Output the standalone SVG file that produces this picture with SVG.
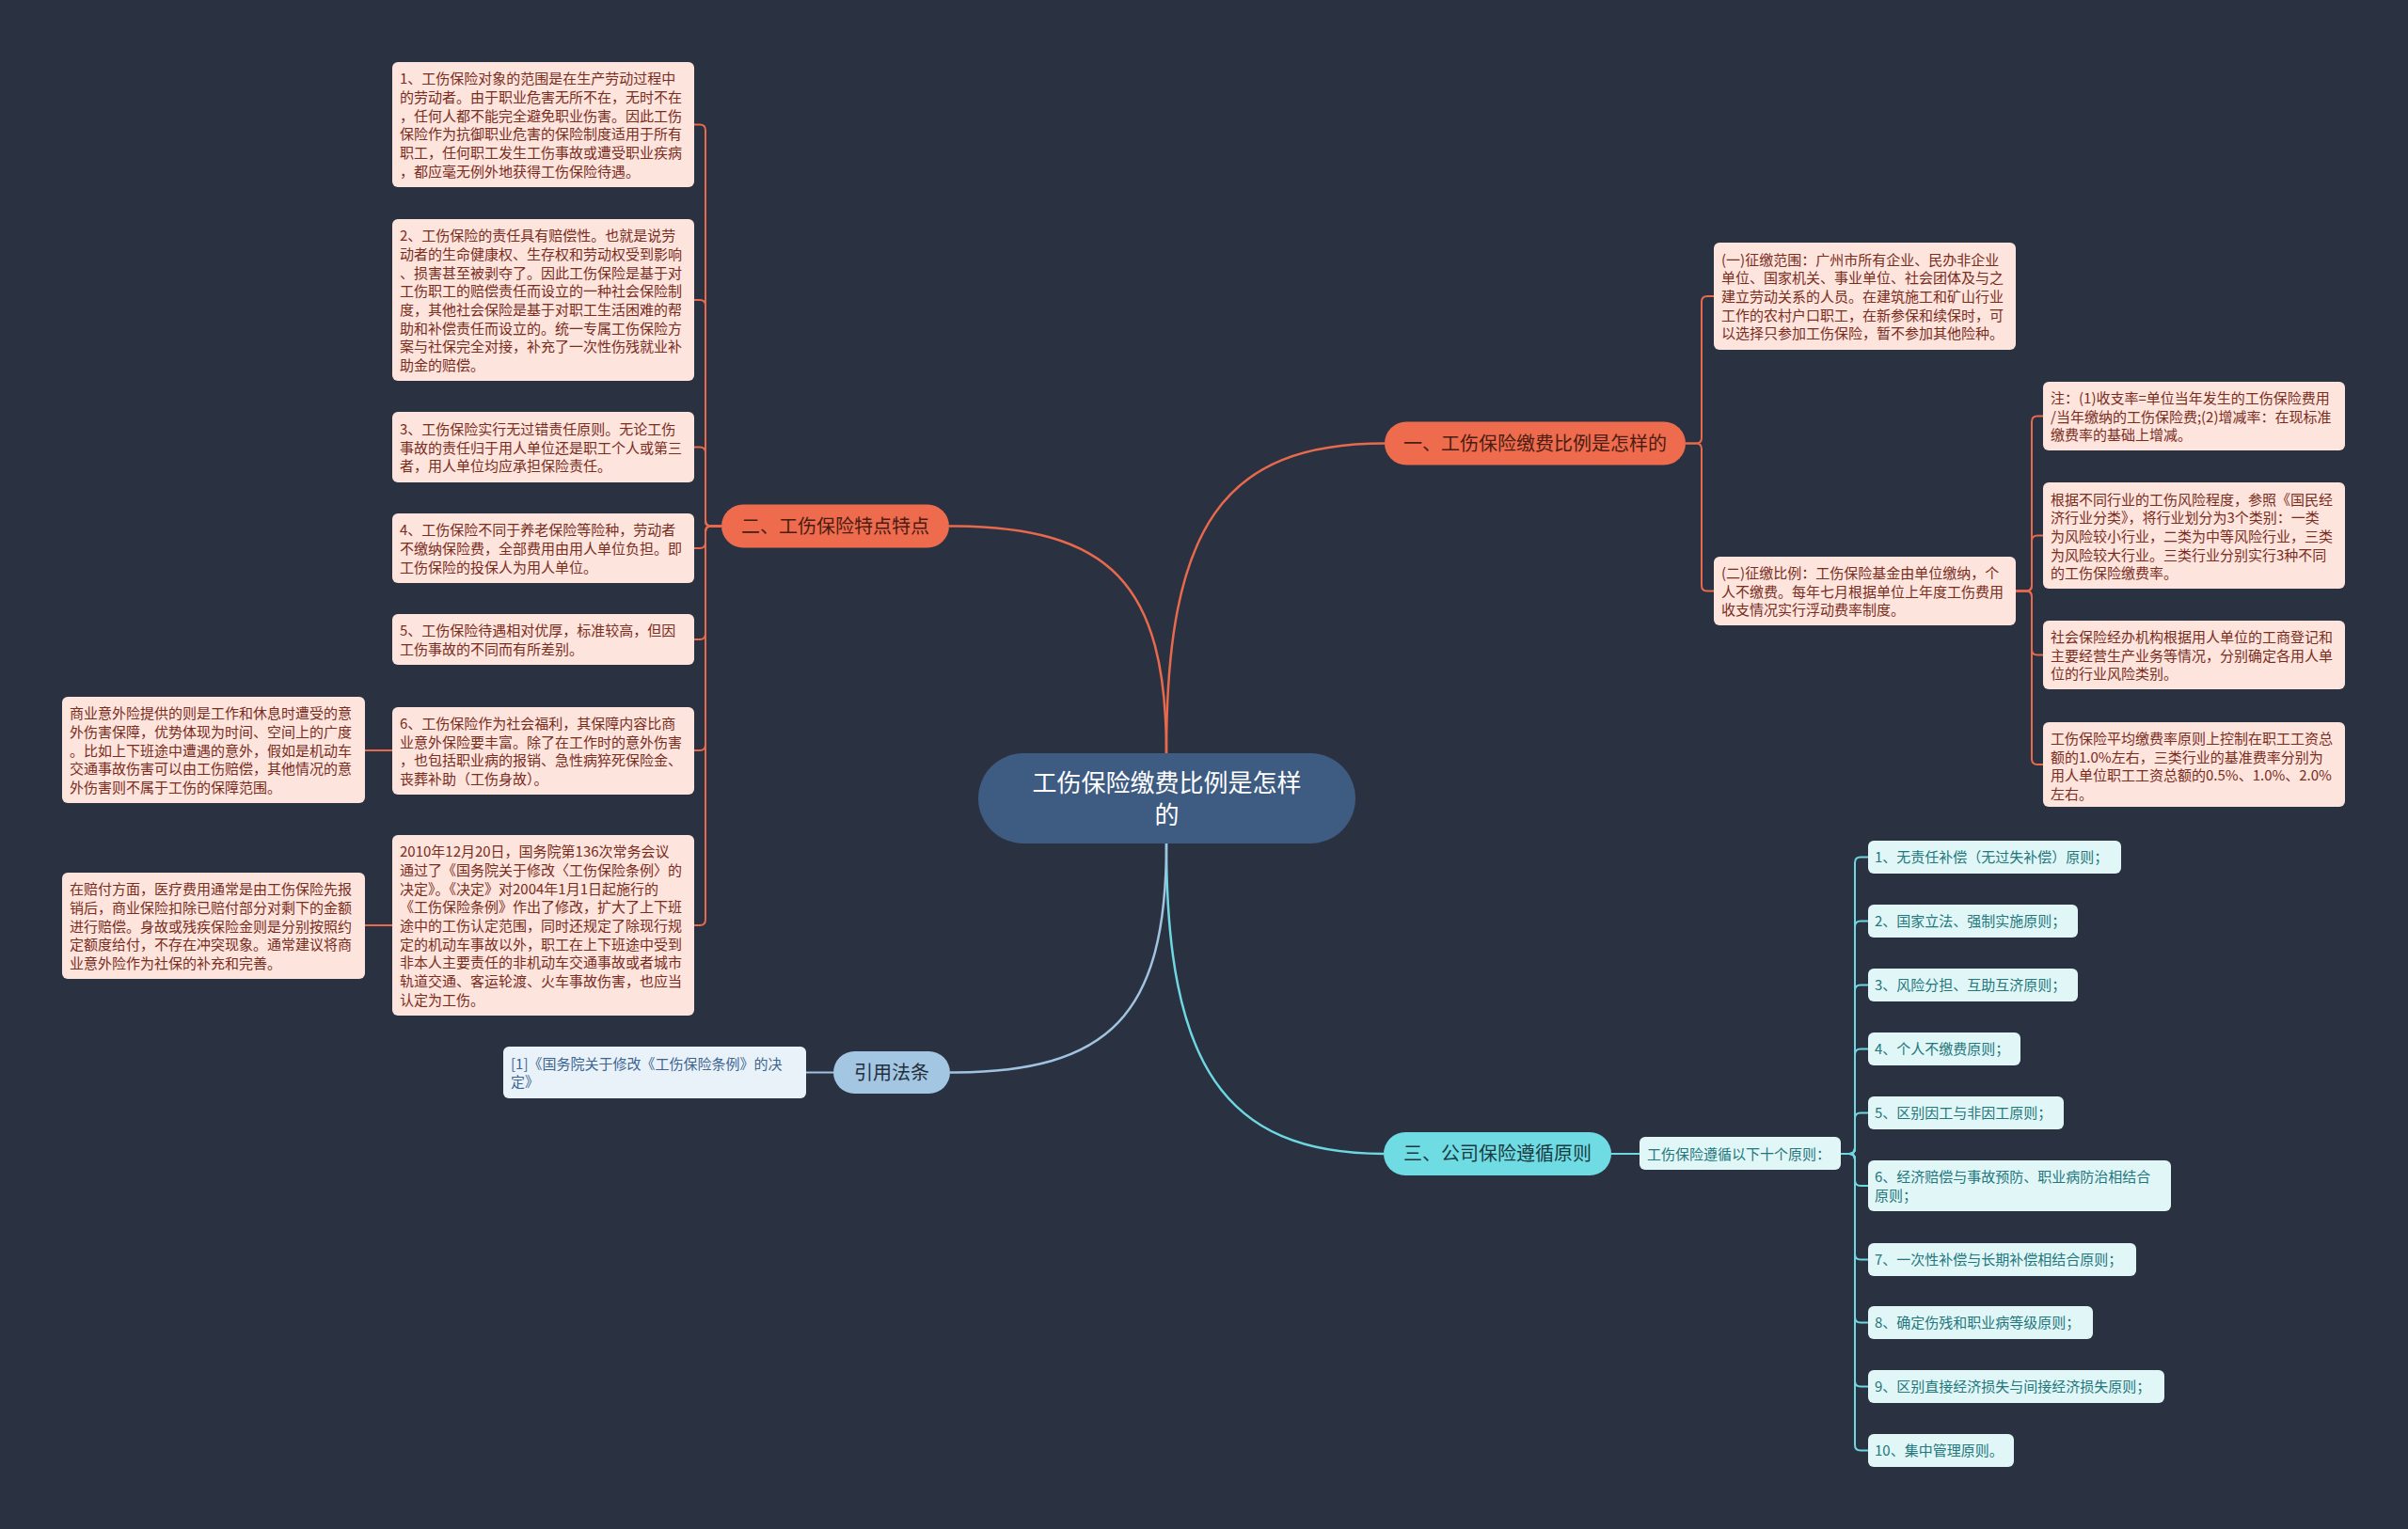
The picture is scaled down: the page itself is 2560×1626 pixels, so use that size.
<svg xmlns="http://www.w3.org/2000/svg" width="2560" height="1626" viewBox="0 0 2560 1626">
<style>
text{font-family:"Noto Sans CJK SC","Noto Sans",sans-serif;}
.pbox{fill:#fde4dc;}
.pt{font-size:15px;fill:#7a2c1c;}
.cbox{fill:#e1f6f7;}
.ct{font-size:15px;fill:#22777c;}
.coral{fill:#ee6b4d;}
.brt{font-size:20px;text-anchor:middle;}
.lo{fill:none;stroke:#e8694c;stroke-width:2.5;}
.ls{fill:none;stroke:#e8694c;stroke-width:2;}
.co{fill:none;stroke:#6dd8e2;stroke-width:2.5;}
.cs{fill:none;stroke:#6dd8e2;stroke-width:2;}
.bo{fill:none;stroke:#a0c3e0;stroke-width:2.5;}
</style>
<rect width="2560" height="1626" fill="#2a3242"/>

<g id="connectors">
  <path class="lo" d="M1240,801 C1240,560 1300,471.5 1472,471.5"/>
  <path class="lo" d="M1240,801 C1240,620 1180,559.5 1009,559.5"/>
  <path class="co" d="M1240,897 C1240,1130 1300,1227 1471,1227"/>
  <path class="bo" d="M1240,897 C1240,1080 1180,1140.5 1010,1140.5"/>
  <!-- branch 2 to left boxes -->
  <path class="ls" d="M767,559.5 H756 Q750,559.5 750,553.5 V138.5 Q750,132.5 744,132.5 H738"/>
  <path class="ls" d="M767,559.5 H756 Q750,559.5 750,553.5 V325 Q750,319 744,319 H738"/>
  <path class="ls" d="M767,559.5 H756 Q750,559.5 750,553.5 V481.5 Q750,475.5 744,475.5 H738"/>
  <path class="ls" d="M767,559.5 H756 Q750,559.5 750,565.5 V577 Q750,583 744,583 H738"/>
  <path class="ls" d="M767,559.5 H756 Q750,559.5 750,565.5 V674 Q750,680 744,680 H738"/>
  <path class="ls" d="M767,559.5 H756 Q750,559.5 750,565.5 V792 Q750,798 744,798 H738"/>
  <path class="ls" d="M767,559.5 H756 Q750,559.5 750,565.5 V978 Q750,984 744,984 H738"/>
  <path class="ls" d="M417,798 H388"/>
  <path class="ls" d="M417,984 H388"/>
  <!-- branch 1 -->
  <path class="ls" d="M1792,471.5 H1803 Q1809,471.5 1809,465.5 V321 Q1809,315 1815,315 H1822"/>
  <path class="ls" d="M1792,471.5 H1803 Q1809,471.5 1809,477.5 V622.5 Q1809,628.5 1815,628.5 H1822"/>
  <path class="ls" d="M2143,628.5 H2154 Q2160,628.5 2160,622.5 V448.5 Q2160,442.5 2166,442.5 H2172"/>
  <path class="ls" d="M2143,628.5 H2154 Q2160,628.5 2160,622.5 V575.5 Q2160,569.5 2166,569.5 H2172"/>
  <path class="ls" d="M2143,628.5 H2154 Q2160,628.5 2160,634.5 V690.5 Q2160,696.5 2166,696.5 H2172"/>
  <path class="ls" d="M2143,628.5 H2154 Q2160,628.5 2160,634.5 V807 Q2160,813 2166,813 H2172"/>
  <!-- branch 3 -->
  <path class="cs" d="M1713,1227 H1743"/>
  <path class="cs" d="M1957,1227 H1966 Q1972,1227 1972,1221 V917.5 Q1972,911.5 1978,911.5 H1986"/>
  <path class="cs" d="M1957,1227 H1966 Q1972,1227 1972,1221 V985.5 Q1972,979.5 1978,979.5 H1986"/>
  <path class="cs" d="M1957,1227 H1966 Q1972,1227 1972,1221 V1053.5 Q1972,1047.5 1978,1047.5 H1986"/>
  <path class="cs" d="M1957,1227 H1966 Q1972,1227 1972,1221 V1121.5 Q1972,1115.5 1978,1115.5 H1986"/>
  <path class="cs" d="M1957,1227 H1966 Q1972,1227 1972,1221 V1189.5 Q1972,1183.5 1978,1183.5 H1986"/>
  <path class="cs" d="M1957,1227 H1966 Q1972,1227 1972,1233 V1255 Q1972,1261 1978,1261 H1986"/>
  <path class="cs" d="M1957,1227 H1966 Q1972,1227 1972,1233 V1333.5 Q1972,1339.5 1978,1339.5 H1986"/>
  <path class="cs" d="M1957,1227 H1966 Q1972,1227 1972,1233 V1400.5 Q1972,1406.5 1978,1406.5 H1986"/>
  <path class="cs" d="M1957,1227 H1966 Q1972,1227 1972,1233 V1468.5 Q1972,1474.5 1978,1474.5 H1986"/>
  <path class="cs" d="M1957,1227 H1966 Q1972,1227 1972,1233 V1536.5 Q1972,1542.5 1978,1542.5 H1986"/>
  <path class="bo" style="stroke-width:2" d="M886,1140.5 H857"/>
</g>

<g id="root">
  <rect x="1040" y="801" width="401" height="96" rx="48" fill="#3e5c82"/>
  <text x="1240.5" y="842" font-size="26" fill="#ffffff" text-anchor="middle">工伤保险缴费比例是怎样</text>
  <text x="1240.5" y="876" font-size="26" fill="#ffffff" text-anchor="middle">的</text>
</g>

<g id="branch1">
  <rect class="coral" x="1472" y="448.5" width="320" height="46" rx="23"/>
  <text class="brt" x="1632" y="478.5" fill="#4a1c12">一、工伤保险缴费比例是怎样的</text>
</g>
<g id="branch2">
  <rect class="coral" x="767" y="536.5" width="242" height="46" rx="23"/>
  <text class="brt" x="888" y="566.5" fill="#4a1c12">二、工伤保险特点特点</text>
</g>
<g id="branch3">
  <rect x="1471" y="1204" width="242" height="46" rx="23" fill="#6fdce4"/>
  <text class="brt" x="1592" y="1234" fill="#1b3a3f">三、公司保险遵循原则</text>
</g>
<g id="branch4">
  <rect x="886" y="1118" width="124" height="45" rx="22.5" fill="#a3c6e3"/>
  <text class="brt" x="948" y="1147.5" fill="#23303c">引用法条</text>
</g>

<g id="box1">
  <rect class="pbox" x="417" y="66" width="321" height="133" rx="6"/>
  <text class="pt"><tspan x="425" y="89.3">1、工伤保险对象的范围是在生产劳动过程中</tspan><tspan x="425" y="109">的劳动者。由于职业危害无所不在，无时不在</tspan><tspan x="425" y="128.7">，任何人都不能完全避免职业伤害。因此工伤</tspan><tspan x="425" y="148.4">保险作为抗御职业危害的保险制度适用于所有</tspan><tspan x="425" y="168.1">职工，任何职工发生工伤事故或遭受职业疾病</tspan><tspan x="425" y="187.8">，都应毫无例外地获得工伤保险待遇。</tspan></text>
</g>
<g id="box2">
  <rect class="pbox" x="417" y="233" width="321" height="172" rx="6"/>
  <text class="pt"><tspan x="425" y="256.1">2、工伤保险的责任具有赔偿性。也就是说劳</tspan><tspan x="425" y="275.8">动者的生命健康权、生存权和劳动权受到影响</tspan><tspan x="425" y="295.5">、损害甚至被剥夺了。因此工伤保险是基于对</tspan><tspan x="425" y="315.2">工伤职工的赔偿责任而设立的一种社会保险制</tspan><tspan x="425" y="334.9">度，其他社会保险是基于对职工生活困难的帮</tspan><tspan x="425" y="354.6">助和补偿责任而设立的。统一专属工伤保险方</tspan><tspan x="425" y="374.3">案与社保完全对接，补充了一次性伤残就业补</tspan><tspan x="425" y="394">助金的赔偿。</tspan></text>
</g>
<g id="box3">
  <rect class="pbox" x="417" y="438" width="321" height="75" rx="6"/>
  <text class="pt"><tspan x="425" y="461.8">3、工伤保险实行无过错责任原则。无论工伤</tspan><tspan x="425" y="481.5">事故的责任归于用人单位还是职工个人或第三</tspan><tspan x="425" y="501.2">者，用人单位均应承担保险责任。</tspan></text>
</g>
<g id="box4">
  <rect class="pbox" x="417" y="546" width="321" height="74" rx="6"/>
  <text class="pt"><tspan x="425" y="569.3">4、工伤保险不同于养老保险等险种，劳动者</tspan><tspan x="425" y="589">不缴纳保险费，全部费用由用人单位负担。即</tspan><tspan x="425" y="608.7">工伤保险的投保人为用人单位。</tspan></text>
</g>
<g id="box5">
  <rect class="pbox" x="417" y="653" width="321" height="54" rx="6"/>
  <text class="pt"><tspan x="425" y="676.2">5、工伤保险待遇相对优厚，标准较高，但因</tspan><tspan x="425" y="695.9">工伤事故的不同而有所差别。</tspan></text>
</g>
<g id="box6">
  <rect class="pbox" x="417" y="752" width="321" height="93" rx="6"/>
  <text class="pt"><tspan x="425" y="775">6、工伤保险作为社会福利，其保障内容比商</tspan><tspan x="425" y="794.7">业意外保险要丰富。除了在工作时的意外伤害</tspan><tspan x="425" y="814.4">，也包括职业病的报销、急性病猝死保险金、</tspan><tspan x="425" y="834.1">丧葬补助（工伤身故）。</tspan></text>
</g>
<g id="box7">
  <rect class="pbox" x="417" y="888" width="321" height="192" rx="6"/>
  <text class="pt"><tspan x="425" y="911.2">2010年12月20日，国务院第136次常务会议</tspan><tspan x="425" y="930.9">通过了《国务院关于修改〈工伤保险条例〉的</tspan><tspan x="425" y="950.6">决定》。《决定》对2004年1月1日起施行的</tspan><tspan x="425" y="970.3">《工伤保险条例》作出了修改，扩大了上下班</tspan><tspan x="425" y="990">途中的工伤认定范围，同时还规定了除现行规</tspan><tspan x="425" y="1009.7">定的机动车事故以外，职工在上下班途中受到</tspan><tspan x="425" y="1029.4">非本人主要责任的非机动车交通事故或者城市</tspan><tspan x="425" y="1049.1">轨道交通、客运轮渡、火车事故伤害，也应当</tspan><tspan x="425" y="1068.8">认定为工伤。</tspan></text>
</g>
<g id="boxA">
  <rect class="pbox" x="66" y="741" width="322" height="113" rx="6"/>
  <text class="pt"><tspan x="74" y="764.1">商业意外险提供的则是工作和休息时遭受的意</tspan><tspan x="74" y="783.8">外伤害保障，优势体现为时间、空间上的广度</tspan><tspan x="74" y="803.5">。比如上下班途中遭遇的意外，假如是机动车</tspan><tspan x="74" y="823.2">交通事故伤害可以由工伤赔偿，其他情况的意</tspan><tspan x="74" y="842.9">外伤害则不属于工伤的保障范围。</tspan></text>
</g>
<g id="boxB">
  <rect class="pbox" x="66" y="928" width="322" height="113" rx="6"/>
  <text class="pt"><tspan x="74" y="951.1">在赔付方面，医疗费用通常是由工伤保险先报</tspan><tspan x="74" y="970.8">销后，商业保险扣除已赔付部分对剩下的金额</tspan><tspan x="74" y="990.5">进行赔偿。身故或残疾保险金则是分别按照约</tspan><tspan x="74" y="1010.2">定额度给付，不存在冲突现象。通常建议将商</tspan><tspan x="74" y="1029.9">业意外险作为社保的补充和完善。</tspan></text>
</g>

<g id="boxC1">
  <rect class="pbox" x="1822" y="258" width="321" height="114" rx="6"/>
  <text class="pt"><tspan x="1830" y="281.6">(一)征缴范围：广州市所有企业、民办非企业</tspan><tspan x="1830" y="301.3">单位、国家机关、事业单位、社会团体及与之</tspan><tspan x="1830" y="321">建立劳动关系的人员。在建筑施工和矿山行业</tspan><tspan x="1830" y="340.7">工作的农村户口职工，在新参保和续保时，可</tspan><tspan x="1830" y="360.4">以选择只参加工伤保险，暂不参加其他险种。</tspan></text>
</g>
<g id="boxC2">
  <rect class="pbox" x="1822" y="592" width="321" height="73" rx="6"/>
  <text class="pt"><tspan x="1830" y="614.8">(二)征缴比例：工伤保险基金由单位缴纳，个</tspan><tspan x="1830" y="634.5">人不缴费。每年七月根据单位上年度工伤费用</tspan><tspan x="1830" y="654.2">收支情况实行浮动费率制度。</tspan></text>
</g>
<g id="boxD1">
  <rect class="pbox" x="2172" y="406" width="321" height="73" rx="6"/>
  <text class="pt"><tspan x="2180" y="428.8">注：(1)收支率=单位当年发生的工伤保险费用</tspan><tspan x="2180" y="448.5">/当年缴纳的工伤保险费;(2)增减率：在现标准</tspan><tspan x="2180" y="468.2">缴费率的基础上增减。</tspan></text>
</g>
<g id="boxD2">
  <rect class="pbox" x="2172" y="513" width="321" height="113" rx="6"/>
  <text class="pt"><tspan x="2180" y="536.6">根据不同行业的工伤风险程度，参照《国民经</tspan><tspan x="2180" y="556.3">济行业分类》，将行业划分为3个类别：一类</tspan><tspan x="2180" y="576">为风险较小行业，二类为中等风险行业，三类</tspan><tspan x="2180" y="595.7">为风险较大行业。三类行业分别实行3种不同</tspan><tspan x="2180" y="615.4">的工伤保险缴费率。</tspan></text>
</g>
<g id="boxD3">
  <rect class="pbox" x="2172" y="660" width="321" height="73" rx="6"/>
  <text class="pt"><tspan x="2180" y="682.8">社会保险经办机构根据用人单位的工商登记和</tspan><tspan x="2180" y="702.5">主要经营生产业务等情况，分别确定各用人单</tspan><tspan x="2180" y="722.2">位的行业风险类别。</tspan></text>
</g>
<g id="boxD4">
  <rect class="pbox" x="2172" y="768" width="321" height="90" rx="6"/>
  <text class="pt"><tspan x="2180" y="791">工伤保险平均缴费率原则上控制在职工工资总</tspan><tspan x="2180" y="810.7">额的1.0%左右，三类行业的基准费率分别为</tspan><tspan x="2180" y="830.4">用人单位职工工资总额的0.5%、1.0%、2.0%</tspan><tspan x="2180" y="850.1">左右。</tspan></text>
</g>

<g id="mid">
  <rect class="cbox" x="1743" y="1209" width="214" height="35" rx="6"/>
  <text class="ct" x="1751" y="1232.5">工伤保险遵循以下十个原则：</text>
</g>
<g id="e1"><rect class="cbox" x="1986" y="894" width="269" height="35" rx="6"/><text class="ct" x="1993" y="917">1、无责任补偿（无过失补偿）原则；</text></g>
<g id="e2"><rect class="cbox" x="1986" y="962" width="223" height="35" rx="6"/><text class="ct" x="1993" y="985">2、国家立法、强制实施原则；</text></g>
<g id="e3"><rect class="cbox" x="1986" y="1030" width="223" height="35" rx="6"/><text class="ct" x="1993" y="1053">3、风险分担、互助互济原则；</text></g>
<g id="e4"><rect class="cbox" x="1986" y="1098" width="162" height="35" rx="6"/><text class="ct" x="1993" y="1121">4、个人不缴费原则；</text></g>
<g id="e5"><rect class="cbox" x="1986" y="1166" width="208" height="35" rx="6"/><text class="ct" x="1993" y="1189">5、区别因工与非因工原则；</text></g>
<g id="e6"><rect class="cbox" x="1986" y="1234" width="322" height="54" rx="6"/><text class="ct"><tspan x="1993" y="1257.2">6、经济赔偿与事故预防、职业病防治相结合</tspan><tspan x="1993" y="1276.9">原则；</tspan></text></g>
<g id="e7"><rect class="cbox" x="1986" y="1322" width="285" height="35" rx="6"/><text class="ct" x="1993" y="1345">7、一次性补偿与长期补偿相结合原则；</text></g>
<g id="e8"><rect class="cbox" x="1986" y="1389" width="239" height="35" rx="6"/><text class="ct" x="1993" y="1412">8、确定伤残和职业病等级原则；</text></g>
<g id="e9"><rect class="cbox" x="1986" y="1457" width="315" height="35" rx="6"/><text class="ct" x="1993" y="1480">9、区别直接经济损失与间接经济损失原则；</text></g>
<g id="e10"><rect class="cbox" x="1986" y="1525" width="155" height="35" rx="6"/><text class="ct" x="1993" y="1548">10、集中管理原则。</text></g>

<g id="ref">
  <rect x="535" y="1113" width="322" height="55" rx="6" fill="#eaf2f9"/>
  <text font-size="15" fill="#3b6590"><tspan x="543" y="1136.7">[1]《国务院关于修改《工伤保险条例》的决</tspan><tspan x="543" y="1156.4">定》</tspan></text>
</g>
</svg>
